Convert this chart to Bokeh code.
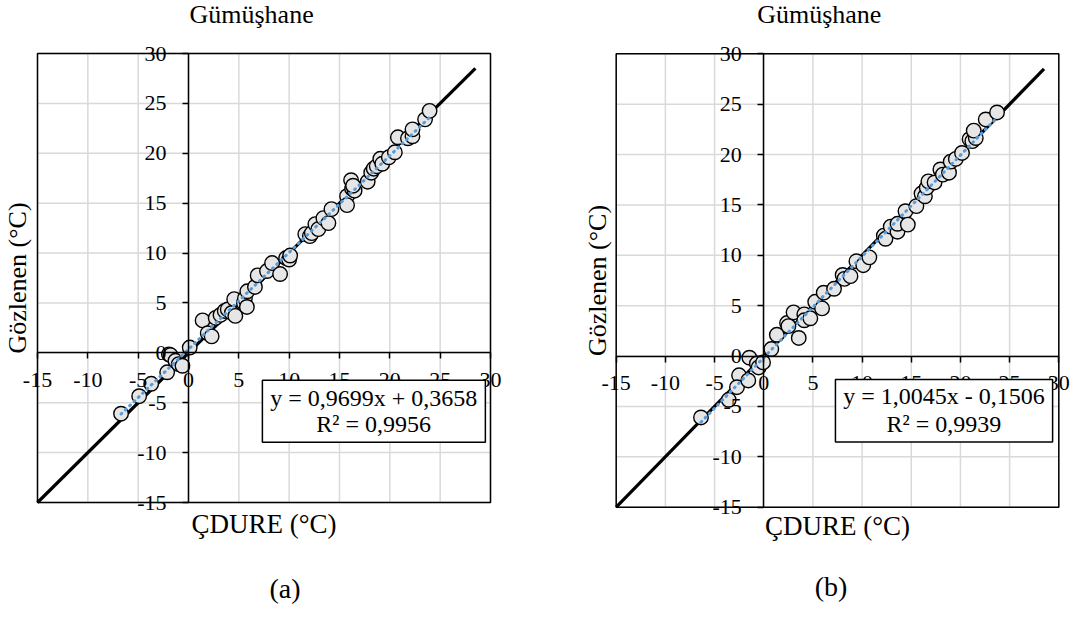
import math
from bokeh.plotting import figure
from bokeh.models import (LinearAxis, FixedTicker, BoxAnnotation, Label,
                          Range1d)
from bokeh.layouts import row
from bokeh.embed import file_html
from bokeh.resources import INLINE

# ---------------- data ----------------
ticks = [-15, -10, -5, 0, 5, 10, 15, 20, 25, 30]
tick_labels = {t: str(t) for t in ticks}
ref_line = [-15, 28.5]
station = "Gümüşhane"
x_label = "ÇDURE (°C)"
y_label = "Gözlenen (°C)"

a_cdure = [-6.7, -4.9, -3.7, -2.12, -1.95, -1.79, -1.3, -0.97, -0.6, 0.12,
           1.4, 1.91, 2.3, 2.7, 3.18, 3.6, 3.9, 4.3, 4.65, 4.54,
           5.5, 5.6, 5.8, 5.84, 6.6, 6.87, 7.8, 8.3, 9.1, 9.7,
           10.0, 10.1, 11.6, 12.06, 12.25, 12.6, 12.9, 13.4, 13.9, 14.2,
           15.75, 15.75, 16.15, 16.25, 16.5, 16.35, 17.8, 18.15, 18.4, 18.7,
           19.05, 19.25, 19.9, 20.5, 20.8, 21.8, 22.25, 22.25, 23.5, 23.95]
a_obs = [-6.1, -4.35, -3.1, -1.95, -0.15, -0.23, -0.8, -1.13, -1.3, 0.53,
         3.25, 1.97, 1.65, 3.5, 3.8, 4.2, 4.35, 4.0, 3.7, 5.38,
         5.0, 5.45, 4.6, 6.17, 6.6, 7.76, 8.2, 9.0, 7.9, 9.5,
         9.35, 9.75, 11.9, 11.7, 12.0, 12.9, 12.4, 13.5, 13.0, 14.4,
         15.7, 14.8, 17.3, 16.45, 16.25, 16.75, 17.15, 18.05, 18.45, 18.7,
         19.45, 18.95, 19.6, 20.1, 21.6, 21.5, 21.7, 22.4, 23.4, 24.25]
a_eq = "y = 0,9699x + 0,3658"
a_r2 = "R² = 0,9956"
a_slope, a_icpt = 0.9699, 0.3658

b_cdure = [-6.38, -3.56, -2.51, -2.72, -1.57, -1.46, -0.7, -0.52, -0.07, 0.77,
           1.33, 2.37, 2.51, 3.03, 3.56, 4.12, 4.12, 4.74, 5.23, 5.93,
           6.1, 7.15, 8.02, 8.2, 8.82, 9.42, 10.12, 10.74, 12.21, 12.38,
           12.91, 13.6, 13.6, 14.41, 14.65, 15.52, 16.04, 16.39, 16.57, 16.74,
           17.37, 17.96, 18.21, 18.84, 19.01, 19.53, 20.16, 20.93, 21.21, 21.56,
           21.35, 22.57, 23.72]
b_obs = [-6.09, -4.34, -1.91, -3.09, -2.42, -0.16, -0.74, -1.13, -0.63, 0.7,
         2.11, 3.28, 2.97, 4.34, 1.8, 4.14, 3.55, 3.75, 5.39, 4.73,
         6.29, 6.68, 8.05, 7.66, 7.93, 9.41, 9.02, 9.8, 11.95, 11.64,
         12.85, 12.34, 13.13, 14.38, 13.05, 14.88, 16.13, 15.86, 16.72, 17.34,
         17.23, 18.52, 18.01, 18.2, 19.3, 19.57, 20.16, 21.52, 21.33, 21.64,
         22.38, 23.48, 24.18]
b_eq = "y = 1,0045x - 0,1506"
b_r2 = "R² = 0,9939"
b_slope, b_icpt = 1.0045, -0.1506

FONT = "Liberation Serif"
LO, HI = -15, 30


def panel(xv, yv, slope, icpt, eq, r2, tag, W, H, fx0, fx1, fy0, fy1,
          title_dx, title_dy, ylab_dx, xlab_dy, tag_dx, tag_dy, box):
    # fx0/fx1: pixel columns of -15 / 30 ; fy0/fy1: pixel rows of 30 / -15
    sx = (fx1 - fx0) / (HI - LO)
    sy = (fy1 - fy0) / (HI - LO)
    xr = Range1d(LO - fx0 / sx, HI + (W - fx1) / sx)
    yr = Range1d(LO - (H - fy1) / sy, HI + fy0 / sy)

    p = figure(frame_width=W, frame_height=H, min_border=0,
               x_range=xr, y_range=yr, title=None,
               x_axis_location=None, y_axis_location=None,
               output_backend="svg", toolbar_location=None,
               background_fill_color="white", border_fill_color="white")
    p.outline_line_color = None
    p.xgrid.visible = False
    p.ygrid.visible = False

    n = len(ticks)
    # gridlines at the tick values
    p.segment(x0=ticks, y0=[LO] * n, x1=ticks, y1=[HI] * n,
              line_color="#d9d9d9", line_width=1.5)
    p.segment(x0=[LO] * n, y0=ticks, x1=[HI] * n, y1=ticks,
              line_color="#d9d9d9", line_width=1.5)

    common = dict(fixed_location=0, bounds=(LO, HI),
                  ticker=FixedTicker(ticks=ticks),
                  major_tick_out=6, major_tick_in=0,
                  minor_tick_out=0, minor_tick_in=0,
                  axis_line_color="black", axis_line_width=1.5,
                  major_tick_line_color="black", major_tick_line_width=1.5,
                  major_label_text_font=FONT,
                  major_label_text_font_size="22px",
                  major_label_text_color="black",
                  major_label_overrides=tick_labels)
    p.add_layout(LinearAxis(major_label_standoff=14, **common), "below")
    p.add_layout(LinearAxis(major_label_standoff=16, **common), "left")

    # 1:1 line
    p.line(ref_line, ref_line, line_color="black", line_width=3.2)
    # observations
    p.scatter(xv, yv, size=14.5, fill_color="#e6e6e6", line_color="black",
              line_width=1.4)
    # linear trendline
    tx = [min(xv), max(xv)]
    ty = [slope * v + icpt for v in tx]
    p.line(tx, ty, line_color="#5b9bd5", line_width=3, line_dash="1 5",
           line_cap="round")

    # equation box
    bl, br, bt, bb, cx, l1, l2 = box
    p.add_layout(BoxAnnotation(left=bl, right=br, top=bt, bottom=bb,
                               fill_color="white", fill_alpha=1.0,
                               line_color="black", line_width=1.5,
                               line_alpha=1.0))
    for txt, yy in ((eq, l1), (r2, l2)):
        p.add_layout(Label(x=cx, y=yy, text=txt, text_align="center",
                           text_baseline="middle", text_font=FONT,
                           text_font_size="24px", text_color="black"))

    # plot-area border
    p.add_layout(BoxAnnotation(left=LO, right=HI, bottom=LO, top=HI,
                               fill_alpha=0, line_color="black",
                               line_width=1.5, line_alpha=1.0))

    # station title
    p.add_layout(Label(x=LO, y=HI, x_offset=title_dx, y_offset=title_dy,
                       text=station, text_align="left",
                       text_baseline="middle", text_font=FONT,
                       text_font_size="26px", text_color="black"))
    # y axis title (rotated)
    p.add_layout(Label(x=LO, y=(LO + HI) / 2, x_offset=ylab_dx,
                       text=y_label, angle=math.pi / 2, text_align="center",
                       text_baseline="middle", text_font=FONT,
                       text_font_size="26px", text_color="black"))
    # x axis title
    p.add_layout(Label(x=(LO + HI) / 2, y=LO, y_offset=xlab_dy,
                       text=x_label, text_align="center",
                       text_baseline="middle", text_font=FONT,
                       text_font_size="27px", text_color="black"))
    # panel tag
    p.add_layout(Label(x=LO, y=LO, x_offset=tag_dx, y_offset=tag_dy,
                       text=tag, text_align="left",
                       text_baseline="middle", text_font=FONT,
                       text_font_size="28px", text_color="black"))
    return p


pa = panel(a_cdure, a_obs, a_slope, a_icpt, a_eq, a_r2, "(a)",
           W=540, H=617, fx0=37, fx1=490, fy0=53, fy1=502,
           title_dx=152, title_dy=39, ylab_dx=-20, xlab_dy=-21.5,
           tag_dx=232, tag_dy=-85.5,
           box=(7.34, 29.49, -2.76, -8.97, 18.4, -4.55, -7.15))
pb = panel(b_cdure, b_obs, b_slope, b_icpt, b_eq, b_r2, "(b)",
           W=538, H=617, fx0=75.7, fx1=518.3, fy0=53.3, fy1=506.7,
           title_dx=141, title_dy=39.3, ylab_dx=-19, xlab_dy=-19,
           tag_dx=198.6, tag_dy=-79.5,
           box=(7.29, 29.37, -2.32, -8.54, 18.32, -3.93, -6.73))

layout = row(pa, pb, spacing=0)
open("out.html", "w").write(file_html(layout, INLINE))
